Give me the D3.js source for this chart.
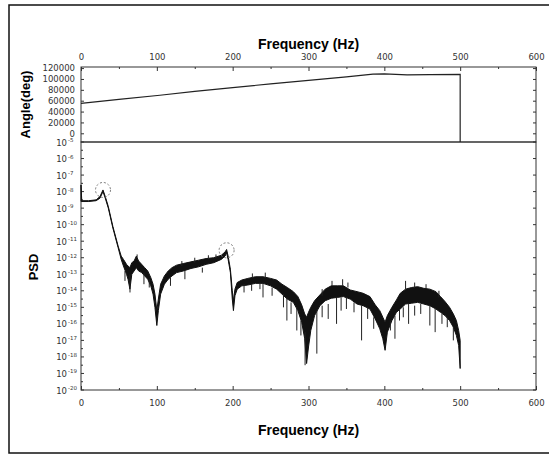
<!DOCTYPE html>
<html>
<head>
<meta charset="utf-8">
<script src="https://cdn.jsdelivr.net/npm/d3@7"></script>
<style>
  body { margin: 0; background: #fff; }
  text { font-family: "DejaVu Sans", sans-serif; }
  .title { font-family: "Liberation Sans", Arial, sans-serif; font-weight: bold; }
</style>
</head>
<body>
<script>
"use strict";

// x ticks (Hz)
const xTicks = [0, 100, 200, 300, 400, 500, 600]
const xMinor = [50, 150, 250, 350, 450, 550]

// angle panel
const angleTicks = [0, 20000, 40000, 60000, 80000, 100000, 120000]
const angleFreq = [0, 50, 104, 150, 200, 250, 300, 350, 385, 400, 430, 460, 500, 500]
const angleVal = [55000, 62500, 70000, 77000, 84000, 91000, 97500, 104000, 109000, 109500, 107500, 108000, 108500, -16000]

// PSD panel, log10 values
const psdTicks = [-5, -6, -7, -8, -9, -10, -11, -12, -13, -14, -15, -16, -17, -18, -19, -20]
const psdFreq = [0, 1, 10, 20, 25, 29, 32, 36, 42, 49, 53, 56, 60, 62, 64.5, 67, 70, 73, 76, 80, 84, 88, 92, 95, 97.5, 100, 102, 105, 110, 115, 120, 126, 135, 145, 155, 165, 175, 185, 190, 192, 194, 197, 199.5, 201, 203, 206, 212, 220, 230, 240, 250, 258, 265, 272, 280, 286, 291, 295, 297.5, 300, 303, 308, 315, 322, 330, 338, 346, 355, 364, 372, 381, 388, 394, 398, 401, 404, 410, 416, 421, 428, 436, 444, 452, 460, 468, 474, 480, 486, 491, 495, 498, 500]
const psdHigh = [-7.6, -8.55, -8.55, -8.5, -8.3, -7.9, -8.3, -8.9, -10.1, -11.3, -11.9, -12.1, -12.4, -12.5, -12.6, -12.3, -12.2, -11.9, -12.2, -12.4, -12.6, -12.8, -13.2, -13.6, -14.2, -15.2, -14.5, -13.6, -13.1, -12.8, -12.6, -12.45, -12.35, -12.25, -12.15, -12.05, -12.0, -11.85, -11.65, -11.5, -11.9, -12.7, -14.0, -14.6, -13.9, -13.5, -13.35, -13.25, -13.15, -13.15, -13.25, -13.35, -13.6, -13.8, -14.05, -14.35, -14.85, -15.4, -15.6, -15.3, -15.0, -14.6, -14.25, -13.9, -13.7, -13.7, -13.7, -13.95, -14.05, -14.15, -14.35, -14.85, -15.2, -15.6, -15.9, -15.5, -15.0, -14.55, -14.15, -13.9, -13.8, -13.75, -13.85, -13.9, -14.05, -14.35, -14.65, -15.0, -15.4, -15.8, -16.4, -17.0]
const psdLow = [-8.6, -8.6, -8.6, -8.55, -8.4, -8.0, -8.4, -9.0, -10.2, -11.4, -12.1, -12.5, -13.0, -13.3, -13.9, -13.0, -12.8, -12.6, -12.8, -12.9, -13.1, -13.3, -13.7, -14.2, -15.0, -16.1, -15.2, -14.2, -13.6, -13.3, -13.1, -12.9, -12.8, -12.65, -12.55, -12.4, -12.3, -12.1, -11.9, -11.7, -12.1, -12.9, -14.5, -15.2, -14.3, -13.9, -13.7, -13.65, -13.55, -13.55, -13.7, -13.9, -14.2, -14.5, -14.7, -15.2, -15.9, -16.9, -18.4, -17.4, -16.4, -15.5, -14.9, -14.6, -14.45, -14.4, -14.35, -14.5, -14.8, -14.9, -15.1, -15.7, -16.3, -16.9, -17.6, -16.5, -15.8, -15.3, -15.1, -14.8, -14.75, -14.7, -14.8, -14.9, -15.1, -15.3, -15.5, -15.8, -16.2, -16.7, -17.3, -18.7]
// narrow spikes: [freq, from, to]
const spikes = [[64.6, -13.0, -14.1], [58, -12.8, -13.4], [74, -12.0, -11.8], [83, -12.9, -13.6], [90, -13.3, -13.8], [118, -13.2, -13.7],
    [133, -12.5, -12.2], [137, -12.8, -13.3], [150, -12.3, -12.0], [160, -12.6, -12.9], [168, -12.1, -11.85], [178, -12.0, -11.8],
    [215, -13.6, -14.1], [225, -13.6, -14.0], [226, -13.2, -12.95], [236, -13.5, -13.9], [240, -13.5, -14.4], [243, -13.2, -12.9],
    [252, -13.8, -14.3], [267, -14.2, -15.0], [271.5, -14.4, -15.8], [277, -14.7, -15.4], [284.6, -15.0, -16.4], [290, -15.8, -16.7],
    [295.5, -16.5, -18.5], [311, -15.2, -17.8], [318, -14.3, -13.9], [318, -14.9, -15.6], [326, -14.8, -15.7], [331, -13.7, -13.4],
    [337, -14.4, -16.0], [343, -14.4, -15.2], [345, -13.7, -13.3], [350, -14.4, -15.1], [352, -13.8, -13.5], [360, -14.7, -15.3],
    [370, -14.9, -17.0], [378, -15.0, -15.7], [386, -15.6, -16.3], [408, -15.8, -16.4], [414, -15.5, -16.9], [420, -15.1, -15.8],
    [425, -15.0, -15.6], [428, -13.9, -13.4], [432, -14.8, -16.0], [440, -13.8, -13.5], [440, -14.9, -15.5], [448, -14.8, -15.4],
    [455, -13.9, -13.6], [460, -14.9, -16.1], [467, -15.1, -16.5], [472, -14.4, -14.0], [476, -15.4, -16.0], [483, -15.6, -16.2], [491, -16.2, -17.0]]
// dashed circles on the peaks
const peaks = [[29, -7.9], [192, -11.55]]

const W = 549, H = 456
const m = { left: 81, right: 536, angTop: 67, angBot: 142, psdBot: 390 }

const svg = d3.select("body").append("svg")
    .attr("width", W)
    .attr("height", H)

// outer frame
svg.append("rect")
    .attr("x", 9).attr("y", 5)
    .attr("width", 560).attr("height", 448)
    .attr("fill", "none")
    .attr("stroke", "#111")
    .attr("stroke-width", 1.5)

const x = d3.scaleLinear().domain([0, 600]).range([m.left, m.right])
const yAng = d3.scaleLinear().domain([-16000, 122000]).range([m.angBot, m.angTop])
const yPsd = d3.scaleLog().domain([1e-20, 1e-5]).range([m.psdBot, m.angBot])
const p = e => yPsd(Math.pow(10, e))

// panel boxes
svg.append("rect")
    .attr("x", m.left).attr("y", m.angTop)
    .attr("width", m.right - m.left).attr("height", m.angBot - m.angTop)
    .attr("fill", "none").attr("stroke", "#333")
svg.append("rect")
    .attr("x", m.left).attr("y", m.angBot)
    .attr("width", m.right - m.left).attr("height", m.psdBot - m.angBot)
    .attr("fill", "none").attr("stroke", "#333")

function styleAxis(g) {
    g.select(".domain").remove()
    g.selectAll(".tick line").attr("stroke", "#333")
    g.selectAll(".tick text").attr("fill", "#333").style("font-size", "8.5px")
}

// top x axis
svg.append("g")
    .attr("transform", `translate(0,${m.angTop})`)
    .call(d3.axisTop(x).tickValues(xTicks).tickSize(-4).tickPadding(7))
    .call(styleAxis)
svg.append("g")
    .attr("transform", `translate(0,${m.angTop})`)
    .call(d3.axisTop(x).tickValues(xMinor).tickSize(-2).tickFormat(""))
    .call(styleAxis)

// bottom x axis
svg.append("g")
    .attr("transform", `translate(0,${m.psdBot})`)
    .call(d3.axisBottom(x).tickValues(xTicks).tickSize(-4).tickPadding(10))
    .call(styleAxis)
svg.append("g")
    .attr("transform", `translate(0,${m.psdBot})`)
    .call(d3.axisBottom(x).tickValues(xMinor).tickSize(-2).tickFormat(""))
    .call(styleAxis)

// angle y axis
svg.append("g")
    .attr("transform", `translate(${m.left},0)`)
    .call(d3.axisLeft(yAng).tickValues(angleTicks).tickSize(-3).tickPadding(6).tickFormat(d3.format("d")))
    .call(styleAxis)
svg.append("g")
    .attr("transform", `translate(${m.right},0)`)
    .call(d3.axisRight(yAng).tickValues(angleTicks).tickSize(-3).tickFormat(""))
    .call(styleAxis)

// psd y axis
const psdAxis = svg.append("g").attr("class", "psd-axis")
psdTicks.forEach(function (e) {
    const yy = p(e)
    psdAxis.append("line")
        .attr("x1", m.left).attr("x2", m.left + 3)
        .attr("y1", yy).attr("y2", yy).attr("stroke", "#333")
    psdAxis.append("line")
        .attr("x1", m.right).attr("x2", m.right - 3)
        .attr("y1", yy).attr("y2", yy).attr("stroke", "#333")
    if (e > -20) {
        psdAxis.append("line")
            .attr("x1", m.left).attr("x2", m.left + 2)
            .attr("y1", p(e - 0.5)).attr("y2", p(e - 0.5)).attr("stroke", "#333")
    }
    psdAxis.append("text")
        .attr("x", m.left - 14).attr("y", yy + 3.5)
        .attr("text-anchor", "end")
        .attr("fill", "#333")
        .style("font-size", "8.5px")
        .text("10")
    psdAxis.append("text")
        .attr("x", m.left - 13).attr("y", yy)
        .attr("fill", "#333")
        .style("font-size", "5.5px")
        .text(String(e))
})

// angle line
svg.append("path")
    .datum(angleFreq.map((f, i) => [f, angleVal[i]]))
    .attr("fill", "none")
    .attr("stroke", "#222")
    .attr("stroke-width", 1.2)
    .attr("d", d3.line().x(d => x(d[0])).y(d => yAng(d[1])))

// psd band
const band = psdFreq.map((f, i) => ({ f: f, hi: psdHigh[i], lo: psdLow[i] }))
svg.append("path")
    .datum(band)
    .attr("fill", "#111")
    .attr("stroke", "#111")
    .attr("stroke-width", 1)
    .attr("stroke-linejoin", "round")
    .attr("d", d3.area().x(d => x(d.f)).y0(d => p(d.lo)).y1(d => p(d.hi)))

svg.selectAll(".spike")
    .data(spikes)
    .enter()
    .append("line")
    .attr("class", "spike")
    .attr("x1", d => x(d[0])).attr("x2", d => x(d[0]))
    .attr("y1", d => p(d[1])).attr("y2", d => p(d[2]))
    .attr("stroke", "#222")
    .attr("stroke-width", 1)

svg.selectAll(".peak")
    .data(peaks)
    .enter()
    .append("circle")
    .attr("class", "peak")
    .attr("cx", d => x(d[0]))
    .attr("cy", d => p(d[1]))
    .attr("r", 7.5)
    .attr("fill", "none")
    .attr("stroke", "#777")
    .attr("stroke-dasharray", "2,2")

// titles
svg.append("text").attr("class", "title")
    .attr("x", (m.left + m.right) / 2).attr("y", 49)
    .attr("text-anchor", "middle")
    .style("font-size", "14px")
    .text("Frequency (Hz)")
svg.append("text").attr("class", "title")
    .attr("x", (m.left + m.right) / 2).attr("y", 435)
    .attr("text-anchor", "middle")
    .style("font-size", "14px")
    .text("Frequency (Hz)")
svg.append("text").attr("class", "title")
    .attr("transform", `translate(30,${(m.angTop + m.angBot) / 2}) rotate(-90)`)
    .attr("text-anchor", "middle")
    .style("font-size", "13px")
    .text("Angle(deg)")
svg.append("text").attr("class", "title")
    .attr("transform", `translate(38,267) rotate(-90)`)
    .attr("text-anchor", "middle")
    .style("font-size", "13px")
    .text("PSD")
</script>
</body>
</html>
